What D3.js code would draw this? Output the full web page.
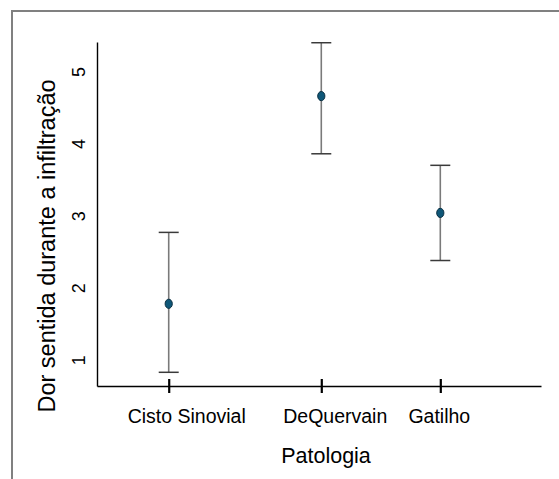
<!DOCTYPE html>
<html><head><meta charset="utf-8">
<script src="https://cdn.jsdelivr.net/npm/d3@7"></script>
<style>body{margin:0;background:#fff}svg{display:block}</style>
</head><body>
<script>
const categories = ["Cisto Sinovial", "DeQuervain", "Gatilho"];
const categoryCodes = [1, 2, 2.78];
const means = [1.75, 4.63, 3.01];
const upper = [2.74, 5.37, 3.67];
const lower = [0.80, 3.83, 2.35];
const yTicks = [1, 2, 3, 4, 5];
const xTitle = "Patologia";
const yTitle = "Dor sentida durante a infiltração";

const W = 559, H = 479;
const svg = d3.select("body").append("svg").attr("width", W).attr("height", H);
svg.append("rect").attr("width", W).attr("height", H).attr("fill", "#fff");
// frame
svg.append("path").attr("d", `M12,${H+2}V11H${W+2}`).attr("fill", "none")
  .attr("stroke", "#808080").attr("stroke-width", 2);

const x = d3.scaleLinear().domain([0.53, 3.44]).range([97, 541]);
const y = d3.scaleLinear().domain([0.61, 5.38]).range([386, 42]);
const font = "'Liberation Sans', Arial, sans-serif";

// axes
const xAxis = svg.append("g").attr("transform", `translate(0,${y(0.61)})`)
  .call(d3.axisBottom(x).tickValues(categoryCodes).tickSize(0).tickFormat(""));
xAxis.select(".domain").attr("stroke", "#000").attr("stroke-width", 1.6);
xAxis.selectAll(".tick").append("line").attr("y1", -7).attr("y2", 7)
  .attr("stroke", "#000").attr("stroke-width", 2.2);

const yAxis = svg.append("g").attr("transform", `translate(${x(0.53)},0)`)
  .call(d3.axisLeft(y).tickValues(yTicks).tickSize(0).tickPadding(0).tickFormat(d3.format("d")));
yAxis.select(".domain").attr("stroke", "#000").attr("stroke-width", 1.4);
yAxis.selectAll(".tick text").attr("transform", "translate(-18,2) rotate(-90)")
  .attr("text-anchor", "middle").attr("dy", "0.35em")
  .attr("font-family", font).attr("font-size", 18).attr("fill", "#000");

// x tick labels
const labelOffsets = [18, 14, -1];
svg.selectAll(".xlab").data(categories).enter().append("text")
  .attr("x", (d, i) => x(categoryCodes[i]) + labelOffsets[i]).attr("y", 423)
  .attr("text-anchor", "middle").attr("font-family", font).attr("font-size", 19.5)
  .attr("fill", "#000").text(d => d);

svg.append("text").attr("x", 326).attr("y", 463).attr("text-anchor", "middle")
  .attr("font-family", font).attr("font-size", 21.5).attr("fill", "#000").text(xTitle);
svg.append("text").attr("transform", `translate(55,246) rotate(-90)`).attr("text-anchor", "middle")
  .attr("font-family", font).attr("font-size", 23.5).attr("fill", "#000").text(yTitle);

// error bars
const g = svg.append("g");
categories.forEach((c, i) => {
  const cx = x(categoryCodes[i]);
  g.append("line").attr("x1", cx).attr("x2", cx).attr("y1", y(upper[i])).attr("y2", y(lower[i]))
    .attr("stroke", "#7a7a7a").attr("stroke-width", 1.6);
  [upper[i], lower[i]].forEach(v => {
    g.append("line").attr("x1", cx - 10).attr("x2", cx + 10).attr("y1", y(v)).attr("y2", y(v))
      .attr("stroke", "#3a3a3a").attr("stroke-width", 1.5);
  });
  g.append("ellipse").attr("cx", cx).attr("cy", y(means[i])).attr("rx", 3.6).attr("ry", 4.6)
    .attr("fill", "#0f5778").attr("stroke", "#0a2f42").attr("stroke-width", 1);
});
</script>
</body></html>
